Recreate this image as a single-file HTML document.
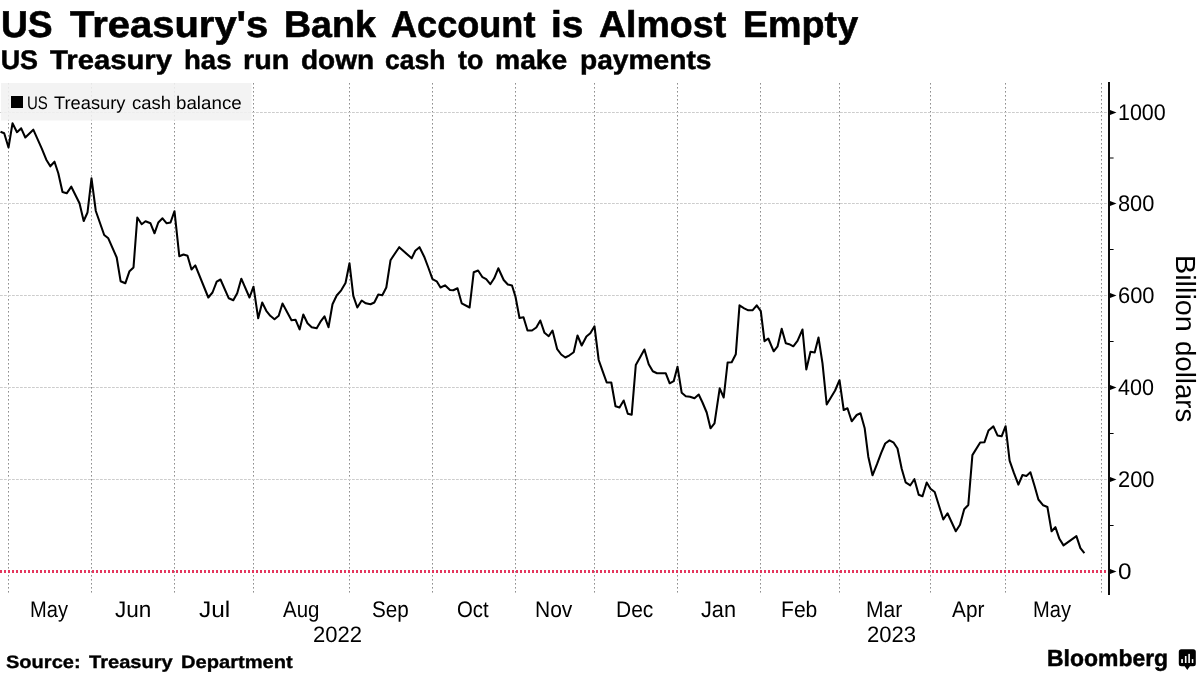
<!DOCTYPE html>
<html lang="en">
<head>
<meta charset="utf-8">
<title>US Treasury's Bank Account is Almost Empty</title>
<style>
html,body{margin:0;padding:0;background:#fff;}
body{width:1200px;height:675px;position:relative;overflow:hidden;font-family:"Liberation Sans",sans-serif;color:#000;}
.chart{position:absolute;left:0;top:0;}
.t{position:absolute;white-space:nowrap;line-height:1;text-rendering:geometricPrecision;font-family:"Liberation Sans",sans-serif;color:#000;}
.w{display:block;transform-origin:0 0;}
#labels{position:absolute;left:0;top:0;width:1200px;height:675px;will-change:transform;}
.b{font-weight:bold;}
.r{font-weight:normal;}
</style>
</head>
<body>
<svg class="chart" width="1200" height="675" viewBox="0 0 1200 675">
<line x1="8.5" y1="83" x2="8.5" y2="595" stroke="#8e8e8e" stroke-width="1" stroke-dasharray="1.6 2.4" opacity="1"/>
<line x1="91.5" y1="83" x2="91.5" y2="595" stroke="#8e8e8e" stroke-width="1" stroke-dasharray="1.6 2.4" opacity="1"/>
<line x1="174.5" y1="83" x2="174.5" y2="595" stroke="#8e8e8e" stroke-width="1" stroke-dasharray="1.6 2.4" opacity="1"/>
<line x1="253.5" y1="83" x2="253.5" y2="595" stroke="#8e8e8e" stroke-width="1" stroke-dasharray="1.6 2.4" opacity="1"/>
<line x1="349.5" y1="83" x2="349.5" y2="595" stroke="#8e8e8e" stroke-width="1" stroke-dasharray="1.6 2.4" opacity="1"/>
<line x1="432.5" y1="83" x2="432.5" y2="595" stroke="#8e8e8e" stroke-width="1" stroke-dasharray="1.6 2.4" opacity="1"/>
<line x1="515.5" y1="83" x2="515.5" y2="595" stroke="#8e8e8e" stroke-width="1" stroke-dasharray="1.6 2.4" opacity="1"/>
<line x1="594.5" y1="83" x2="594.5" y2="595" stroke="#8e8e8e" stroke-width="1" stroke-dasharray="1.6 2.4" opacity="1"/>
<line x1="677.5" y1="83" x2="677.5" y2="595" stroke="#8e8e8e" stroke-width="1" stroke-dasharray="1.6 2.4" opacity="1"/>
<line x1="760.5" y1="83" x2="760.5" y2="595" stroke="#8e8e8e" stroke-width="1" stroke-dasharray="1.6 2.4" opacity="1"/>
<line x1="839.5" y1="83" x2="839.5" y2="595" stroke="#8e8e8e" stroke-width="1" stroke-dasharray="1.6 2.4" opacity="1"/>
<line x1="930.5" y1="83" x2="930.5" y2="595" stroke="#8e8e8e" stroke-width="1" stroke-dasharray="1.6 2.4" opacity="1"/>
<line x1="1005.5" y1="83" x2="1005.5" y2="595" stroke="#8e8e8e" stroke-width="1" stroke-dasharray="1.6 2.4" opacity="1"/>
<line x1="1101.5" y1="83" x2="1101.5" y2="595" stroke="#8e8e8e" stroke-width="1" stroke-dasharray="1.6 2.4" opacity="1"/>
<line x1="0" y1="112.5" x2="1108" y2="112.5" stroke="#cdcdcd" stroke-width="1" stroke-dasharray="2.8 1.2" opacity="1"/>
<line x1="0" y1="203.5" x2="1108" y2="203.5" stroke="#cdcdcd" stroke-width="1" stroke-dasharray="2.8 1.2" opacity="1"/>
<line x1="0" y1="295.5" x2="1108" y2="295.5" stroke="#cdcdcd" stroke-width="1" stroke-dasharray="2.8 1.2" opacity="1"/>
<line x1="0" y1="387.5" x2="1108" y2="387.5" stroke="#cdcdcd" stroke-width="1" stroke-dasharray="2.8 1.2" opacity="1"/>
<line x1="0" y1="479.5" x2="1108" y2="479.5" stroke="#cdcdcd" stroke-width="1" stroke-dasharray="2.8 1.2" opacity="1"/>
<rect x="1" y="83" width="250.5" height="37.5" fill="#f1f1f1" fill-opacity="0.88"/>
<line x1="0" y1="571.5" x2="1108" y2="571.5" stroke="#e4385f" stroke-width="3" stroke-dasharray="2 2"/>
<path d="M0.5 131.7 L4.2 133.3 L8.5 147.5 L12.5 123.3 L17.0 132.2 L21.2 128.3 L25.3 137.5 L33.3 129.7 L41.7 148.3 L46.3 159.7 L50.3 166.3 L54.5 161.7 L58.3 173.3 L62.5 192.0 L66.7 193.3 L71.3 186.7 L79.5 203.3 L83.7 221.0 L87.5 212.5 L91.5 178.3 L95.8 211.0 L104.2 235.0 L108.3 238.3 L116.7 257.5 L120.6 281.2 L125.3 283.3 L129.5 271.2 L133.5 267.4 L137.3 217.5 L141.7 224.2 L145.5 221.3 L150.5 223.3 L154.5 233.3 L158.3 222.5 L162.5 218.3 L166.7 223.3 L170.5 222.5 L174.5 211.2 L179.3 256.2 L183.5 254.5 L187.5 255.8 L191.5 269.5 L195.3 265.4 L208.3 297.5 L212.5 292.5 L216.7 281.7 L220.5 279.5 L228.8 298.3 L233.3 300.3 L237.2 293.3 L241.3 278.7 L249.5 297.5 L253.5 286.7 L258.2 318.3 L262.2 302.5 L266.3 310.8 L270.3 315.8 L274.5 319.2 L278.7 315.8 L282.5 303.5 L291.5 320.2 L295.5 319.7 L299.6 329.4 L303.3 314.5 L307.5 323.3 L311.7 327.2 L316.7 328.3 L320.5 321.7 L324.5 316.3 L328.5 327.2 L332.5 304.2 L336.7 295.5 L341.2 290.3 L345.5 283.0 L349.5 263.3 L353.3 295.8 L357.3 307.5 L361.7 300.5 L365.8 303.3 L370.5 304.3 L374.3 302.5 L378.3 294.5 L382.3 295.3 L386.3 287.5 L390.5 260.3 L394.8 253.7 L399.2 247.2 L411.7 258.3 L415.3 250.8 L419.5 247.2 L424.2 256.7 L428.3 267.5 L432.5 279.2 L436.7 281.3 L440.5 287.5 L445.0 285.3 L450.0 290.0 L453.3 290.3 L457.5 288.3 L461.7 303.3 L469.6 307.5 L473.7 272.3 L478.1 270.5 L482.5 277.2 L486.2 279.2 L490.3 284.2 L494.2 278.3 L498.3 268.3 L503.7 280.0 L507.8 284.5 L512.0 285.5 L515.5 296.7 L519.5 318.0 L523.5 317.2 L527.5 330.5 L532.0 330.5 L536.3 327.5 L540.3 320.5 L544.5 332.8 L548.7 336.2 L552.5 330.5 L557.2 349.2 L561.2 354.5 L565.3 357.5 L569.5 355.3 L573.7 352.2 L577.5 335.5 L581.7 345.5 L586.4 336.5 L590.3 333.3 L594.5 326.3 L598.7 360.0 L602.7 371.3 L606.7 382.5 L611.3 382.5 L615.5 406.3 L619.5 407.5 L623.7 400.5 L627.8 413.7 L631.7 414.7 L635.8 365.0 L640.0 357.5 L644.4 349.5 L648.7 364.2 L652.8 371.3 L657.0 373.3 L665.8 373.3 L669.7 383.3 L673.7 381.2 L677.5 366.7 L681.7 392.8 L685.8 396.2 L690.0 396.7 L694.5 398.3 L698.7 394.5 L702.5 402.5 L706.7 412.5 L710.5 428.3 L714.5 423.3 L719.7 388.3 L723.7 397.5 L727.6 362.5 L731.7 362.2 L735.8 354.2 L739.5 305.3 L744.2 308.3 L748.3 310.3 L752.5 310.3 L756.7 305.3 L760.8 311.2 L764.5 341.2 L768.3 338.5 L773.7 351.3 L777.6 346.3 L781.7 328.7 L785.8 343.3 L789.2 344.2 L793.3 346.3 L797.5 340.8 L802.5 329.5 L806.3 369.5 L810.5 351.7 L814.7 352.5 L818.5 337.5 L822.5 363.3 L826.7 404.5 L835.1 390.5 L839.5 380.2 L843.7 410.0 L847.5 408.3 L851.7 421.3 L856.7 415.0 L860.5 413.3 L864.7 428.3 L868.3 456.7 L872.5 475.3 L877.0 464.2 L881.2 452.8 L885.2 443.5 L889.5 440.4 L893.7 442.7 L897.5 448.5 L901.7 468.8 L905.6 482.3 L910.3 485.3 L914.4 479.2 L918.7 494.7 L922.5 496.3 L926.7 482.5 L930.5 488.7 L934.7 492.0 L939.0 505.8 L943.3 519.5 L947.5 513.3 L955.8 531.2 L960.0 524.7 L964.2 509.2 L968.3 505.0 L972.4 455.1 L980.2 442.5 L984.5 442.2 L988.5 430.5 L993.4 426.4 L997.5 435.4 L1001.6 436.3 L1005.6 426.2 L1009.6 460.7 L1013.8 472.7 L1018.4 484.6 L1022.5 475.0 L1026.4 475.9 L1030.4 472.3 L1034.5 485.8 L1038.4 499.5 L1043.2 505.3 L1047.4 507.0 L1051.6 531.2 L1055.4 527.2 L1059.4 538.8 L1063.5 545.4 L1076.4 536.2 L1080.4 548.1 L1084.4 553.1" fill="none" stroke="#000" stroke-width="2.05" stroke-linejoin="round" stroke-linecap="butt"/>
<rect x="1108.05" y="82" width="1.9" height="513" fill="#000"/>
<path d="M1110 109.9 L1116.5 112.5 L1110 115.1 Z" fill="#000"/>
<path d="M1110 200.9 L1116.5 203.5 L1110 206.1 Z" fill="#000"/>
<path d="M1110 292.9 L1116.5 295.5 L1110 298.1 Z" fill="#000"/>
<path d="M1110 384.9 L1116.5 387.5 L1110 390.1 Z" fill="#000"/>
<path d="M1110 476.9 L1116.5 479.5 L1110 482.1 Z" fill="#000"/>
<path d="M1110 568.9 L1116.5 571.5 L1110 574.1 Z" fill="#000"/>
<line x1="1110" y1="158.0" x2="1113.6" y2="158.0" stroke="#000" stroke-width="1"/>
<line x1="1110" y1="249.5" x2="1113.6" y2="249.5" stroke="#000" stroke-width="1"/>
<line x1="1110" y1="341.5" x2="1113.6" y2="341.5" stroke="#000" stroke-width="1"/>
<line x1="1110" y1="433.5" x2="1113.6" y2="433.5" stroke="#000" stroke-width="1"/>
<line x1="1110" y1="525.5" x2="1113.6" y2="525.5" stroke="#000" stroke-width="1"/>
<rect x="11" y="96" width="12" height="12" fill="#000"/>
<path d="M1181.3 649.3 h12 a2.5 2.5 0 0 1 2.5 2.5 v12 a2.5 2.5 0 0 1 -2.5 2.5 h-3.4 l-2.6 3.6 l-2.6 -3.6 h-3.4 a2.5 2.5 0 0 1 -2.5 -2.5 v-12 a2.5 2.5 0 0 1 2.5 -2.5 z" fill="#000"/>
<rect x="1181.2" y="659.1" width="1.7" height="3.9" fill="#fff"/>
<rect x="1184.9" y="656" width="1.6" height="7" fill="#fff"/>
<rect x="1188.3" y="653.9" width="1.6" height="9.1" fill="#fff"/>
<rect x="1191.8" y="659.1" width="1.5" height="3.9" fill="#fff"/>
</svg>
<div id="labels">
<div class="line" id="title">
<span class="t w b" style="left:0.97px;top:6.00px;font-size:37.20px;-webkit-text-stroke:0.60px #000;transform:scaleX(1.0002)">US</span>
<span class="t w b" style="left:69.82px;top:6.00px;font-size:37.20px;-webkit-text-stroke:0.60px #000;transform:scaleX(1.0745)">Treasury&#39;s</span>
<span class="t w b" style="left:284.02px;top:6.00px;font-size:37.20px;-webkit-text-stroke:0.60px #000;transform:scaleX(1.0097)">Bank</span>
<span class="t w b" style="left:391.29px;top:6.00px;font-size:37.20px;-webkit-text-stroke:0.60px #000;transform:scaleX(0.9709)">Account</span>
<span class="t w b" style="left:551.34px;top:6.00px;font-size:37.20px;-webkit-text-stroke:0.60px #000;transform:scaleX(1.0463)">is</span>
<span class="t w b" style="left:598.96px;top:6.00px;font-size:37.20px;-webkit-text-stroke:0.60px #000;transform:scaleX(1.0087)">Almost</span>
<span class="t w b" style="left:742.51px;top:6.00px;font-size:37.20px;-webkit-text-stroke:0.60px #000;transform:scaleX(1.0126)">Empty</span>
</div>
<div class="line" id="sub">
<span class="t w b" style="left:0.64px;top:47.00px;font-size:26.90px;-webkit-text-stroke:0.50px #000;transform:scaleX(1.0000)">US</span>
<span class="t w b" style="left:50.41px;top:47.00px;font-size:26.90px;-webkit-text-stroke:0.50px #000;transform:scaleX(1.0880)">Treasury</span>
<span class="t w b" style="left:183.93px;top:47.00px;font-size:26.90px;-webkit-text-stroke:0.50px #000;transform:scaleX(1.0256)">has</span>
<span class="t w b" style="left:243.40px;top:47.00px;font-size:26.90px;-webkit-text-stroke:0.50px #000;transform:scaleX(1.0705)">run</span>
<span class="t w b" style="left:301.39px;top:47.00px;font-size:26.90px;-webkit-text-stroke:0.50px #000;transform:scaleX(1.0416)">down</span>
<span class="t w b" style="left:385.44px;top:47.00px;font-size:26.90px;-webkit-text-stroke:0.50px #000;transform:scaleX(0.9843)">cash</span>
<span class="t w b" style="left:458.01px;top:47.00px;font-size:26.90px;-webkit-text-stroke:0.50px #000;transform:scaleX(0.9956)">to</span>
<span class="t w b" style="left:494.92px;top:47.00px;font-size:26.90px;-webkit-text-stroke:0.50px #000;transform:scaleX(1.0514)">make</span>
<span class="t w b" style="left:579.68px;top:47.00px;font-size:26.90px;-webkit-text-stroke:0.50px #000;transform:scaleX(1.0468)">payments</span>
</div>
<div class="line" id="leg">
<span class="t w r" style="left:26.84px;top:94.00px;font-size:18.20px;transform:scaleX(0.8253)">US</span>
<span class="t w r" style="left:54.09px;top:94.00px;font-size:18.20px;transform:scaleX(1.0048)">Treasury</span>
<span class="t w r" style="left:132.46px;top:94.00px;font-size:18.20px;transform:scaleX(1.0166)">cash</span>
<span class="t w r" style="left:176.48px;top:94.00px;font-size:18.20px;transform:scaleX(1.0309)">balance</span>
</div>
<span class="t w r yl" style="left:1118.09px;top:102.00px;font-size:22.60px;transform:scaleX(0.9500)">1000</span>
<span class="t w r yl" style="left:1117.77px;top:193.00px;font-size:22.60px;transform:scaleX(0.9644)">800</span>
<span class="t w r yl" style="left:1117.61px;top:285.00px;font-size:22.60px;transform:scaleX(0.9690)">600</span>
<span class="t w r yl" style="left:1118.22px;top:377.00px;font-size:22.60px;transform:scaleX(0.9524)">400</span>
<span class="t w r yl" style="left:1117.61px;top:469.00px;font-size:22.60px;transform:scaleX(0.9690)">200</span>
<span class="t w r yl" style="left:1117.73px;top:561.00px;font-size:22.60px;transform:scaleX(1.0749)">0</span>
<span class="t w r mo" style="left:30.09px;top:599.00px;font-size:22.60px;transform:scaleX(0.8886)">May</span>
<span class="t w r mo" style="left:114.66px;top:599.00px;font-size:22.60px;transform:scaleX(0.9977)">Jun</span>
<span class="t w r mo" style="left:199.13px;top:599.00px;font-size:22.60px;transform:scaleX(1.0831)">Jul</span>
<span class="t w r mo" style="left:282.95px;top:599.00px;font-size:22.60px;transform:scaleX(0.9043)">Aug</span>
<span class="t w r mo" style="left:371.57px;top:599.00px;font-size:22.60px;transform:scaleX(0.9150)">Sep</span>
<span class="t w r mo" style="left:456.53px;top:599.00px;font-size:22.60px;transform:scaleX(0.8997)">Oct</span>
<span class="t w r mo" style="left:534.52px;top:599.00px;font-size:22.60px;transform:scaleX(0.9295)">Nov</span>
<span class="t w r mo" style="left:615.77px;top:599.00px;font-size:22.60px;transform:scaleX(0.9287)">Dec</span>
<span class="t w r mo" style="left:701.42px;top:599.00px;font-size:22.60px;transform:scaleX(0.9616)">Jan</span>
<span class="t w r mo" style="left:780.76px;top:599.00px;font-size:22.60px;transform:scaleX(0.9334)">Feb</span>
<span class="t w r mo" style="left:865.76px;top:599.00px;font-size:22.60px;transform:scaleX(0.9326)">Mar</span>
<span class="t w r mo" style="left:951.70px;top:599.00px;font-size:22.60px;transform:scaleX(0.9209)">Apr</span>
<span class="t w r mo" style="left:1033.34px;top:599.00px;font-size:22.60px;transform:scaleX(0.8886)">May</span>
<span class="t w r yr" style="left:313.40px;top:624.00px;font-size:22.20px;transform:scaleX(0.9922)">2022</span>
<span class="t w r yr" style="left:866.90px;top:624.00px;font-size:22.20px;transform:scaleX(0.9940)">2023</span>
<div class="line" id="src">
<span class="t w b" style="left:5.59px;top:653.00px;font-size:18.00px;-webkit-text-stroke:0.35px #000;transform:scaleX(1.1136)">Source:</span>
<span class="t w b" style="left:88.69px;top:653.00px;font-size:18.00px;-webkit-text-stroke:0.35px #000;transform:scaleX(1.1159)">Treasury</span>
<span class="t w b" style="left:180.84px;top:653.00px;font-size:18.00px;-webkit-text-stroke:0.35px #000;transform:scaleX(1.1168)">Department</span>
</div>
<span class="t w b bb" style="left:1047.40px;top:647.00px;font-size:23.20px;-webkit-text-stroke:0.50px #000;transform:scaleX(0.9895)">Bloomberg</span>
<div id="ytitle" style="position:absolute;left:1175.70px;top:0;width:0;height:0;transform-origin:0 0;transform:rotate(90deg)">
<span class="t w r" style="left:255.32px;top:-23.00px;font-size:27.70px;transform:scaleX(1.0401)">Billion</span>
<span class="t w r" style="left:340.83px;top:-23.00px;font-size:27.70px;transform:scaleX(0.9971)">dollars</span>
</div>
</div>
</body>
</html>
